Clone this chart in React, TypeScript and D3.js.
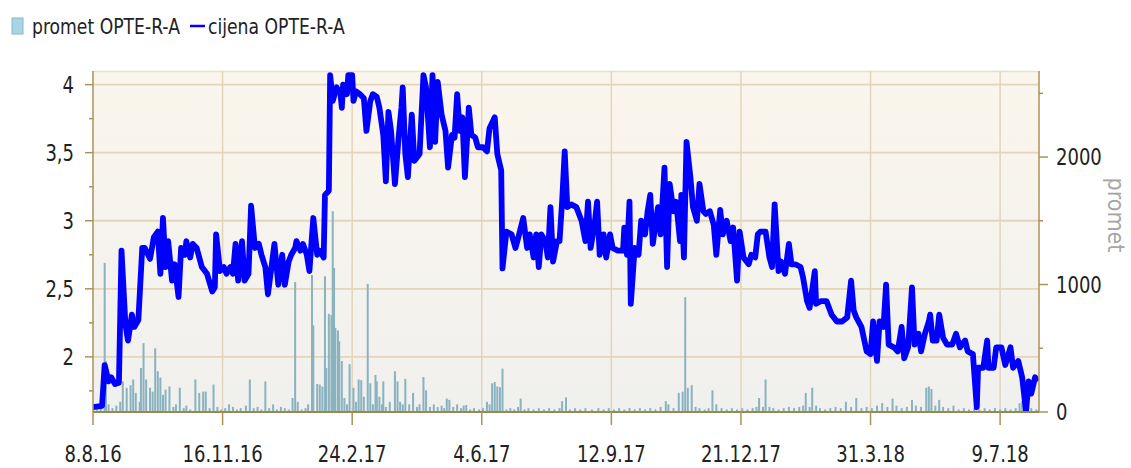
import React from 'react';
import * as d3 from 'd3';

// ---- data ----
const startDate = new Date(Date.UTC(2016, 7, 8)); // 8.8.16
const endDate = new Date(Date.UTC(2018, 7, 8));

// cijena OPTE-R-A : day offset from 8.8.16, price
const priceDays = [
  0, 7, 9, 12, 14, 17, 20, 22, 25, 27, 30, 32, 35, 38, 40, 44, 47, 50, 52, 54, 56, 58, 61, 63, 66, 68, 71, 72, 75, 77, 80, 84, 88, 92, 94, 95, 98,
  101, 103, 106, 108, 110, 112, 115, 117, 120, 122, 125, 128, 130, 133, 135, 138, 140, 143, 146, 148, 151, 153, 156, 157, 160, 162, 165, 167, 170, 173, 175, 178, 179,
  182, 183, 185, 188, 191, 192, 193, 196, 197, 200, 201, 203, 206, 209, 211, 214, 216, 219, 221, 224, 226, 228, 230, 233, 236, 238, 239, 241, 243,
  246, 248, 252, 255, 257, 260, 262, 264, 266, 269, 272, 274, 277, 279, 281, 283, 285, 287, 290, 292, 295, 297, 301, 304, 306, 310, 312, 315, 316,
  319, 323, 326, 328, 332, 335, 337, 340, 342, 344, 346, 349, 351, 353, 355, 358, 360, 362, 364, 366, 369, 373, 377, 380, 382, 384, 387, 389, 391, 394, 396, 399,
  401, 405, 409, 410, 412, 414, 415, 418, 421, 423, 426, 428, 430, 432, 434, 436, 438, 441, 443, 445, 448, 450, 453, 454, 456, 458, 461, 463, 466, 468, 471, 473, 476, 479,
  481, 484, 486, 489, 492, 494, 497, 499, 502, 506, 508, 511, 513, 515, 519, 522, 524, 526, 529, 531, 534, 537, 539, 542, 546, 548, 551, 553, 557, 558, 562, 566,
  570, 574, 578, 582, 585, 587, 589, 593, 597, 600, 602, 605, 607, 610, 612, 614, 618, 621, 624, 626, 629, 632, 634, 637, 639, 642, 645, 646, 648, 651, 653, 656, 659,
  663, 666, 669, 673, 675, 679, 682, 683, 687, 690, 691, 695, 697, 701, 704, 708, 710, 714, 717, 720, 722, 724, 727, 729,
];
const priceValues = [
  1.63, 1.64, 1.94, 1.82, 1.85, 1.8, 1.81, 2.78, 2.24, 2.12, 2.31, 2.22, 2.27, 2.8, 2.8, 2.72, 2.88, 2.92, 2.61, 3.02, 2.66, 2.85, 2.56, 2.68, 2.44, 2.8, 2.75, 2.85, 2.73, 2.83, 2.8, 2.66, 2.61, 2.48, 2.51, 2.9, 2.63,
  2.66, 2.61, 2.66, 2.61, 2.83, 2.56, 2.85, 2.56, 2.61, 3.11, 2.8, 2.83, 2.75, 2.66, 2.46, 2.68, 2.83, 2.53, 2.75, 2.53, 2.7, 2.75, 2.8, 2.85, 2.78, 2.83, 2.75, 2.63, 3.02, 2.75, 2.78, 2.73, 3.19,
  3.22, 4.07, 3.88, 3.98, 3.93, 3.83, 4.0, 3.93, 4.07, 4.07, 3.88, 3.95, 3.93, 3.9, 3.66, 3.88, 3.93, 3.91, 3.83, 3.63, 3.29, 3.8, 3.66, 3.27, 3.63, 3.83, 3.98, 3.49, 3.32,
  3.78, 3.44, 3.49, 4.07, 3.98, 3.54, 4.07, 3.58, 4.02, 3.78, 3.66, 3.39, 3.63, 3.61, 3.93, 3.66, 3.76, 3.32, 3.83, 3.63, 3.61, 3.54, 3.54, 3.51, 3.68, 3.76, 3.49, 3.37, 2.65,
  2.92, 2.9, 2.8, 2.87, 3.02, 2.8, 2.9, 2.73, 2.9, 2.66, 2.9, 2.85, 2.73, 3.1, 2.7, 2.85, 2.85, 3.14, 3.51, 3.1, 3.12, 3.1, 3.0, 2.85, 3.14, 2.8, 2.97, 3.14, 2.75, 2.9, 2.73, 2.9,
  2.8, 2.78, 2.78, 2.95, 2.75, 3.14, 2.39, 2.8, 2.75, 3.0, 2.9, 3.07, 3.19, 2.83, 2.97, 3.1, 2.9, 3.39, 2.66, 3.27, 3.07, 3.14, 2.85, 3.19, 2.73, 3.58, 3.32, 3.1, 3.0, 3.27, 3.07, 3.05, 3.07, 2.97,
  2.75, 3.08, 2.9, 3.0, 2.85, 2.95, 2.56, 2.92, 2.73, 2.68, 2.75, 2.73, 2.9, 2.92, 2.92, 2.73, 2.66, 3.12, 2.63, 2.7, 2.61, 2.83, 2.68, 2.68, 2.66, 2.58, 2.41, 2.36, 2.63, 2.39, 2.41, 2.41,
  2.31, 2.26, 2.26, 2.29, 2.56, 2.34, 2.29, 2.22, 2.04, 2.02, 2.26, 1.97, 2.26, 2.22, 2.53, 2.09, 2.07, 2.04, 2.22, 1.99, 2.07, 2.51, 2.09, 2.17, 2.04, 2.17, 2.26, 2.31, 2.12, 2.12, 2.31, 2.14, 2.09,
  2.09, 2.17, 2.07, 2.12, 2.04, 2.02, 1.63, 1.92, 1.92, 2.12, 1.92, 1.92, 2.07, 2.07, 1.94, 2.07, 1.92, 1.97, 1.85, 1.6, 1.82, 1.73, 1.85, 1.82,
];

// promet OPTE-R-A : day offset from 8.8.16, volume
const volumeDays = [
  0, 3, 6, 9, 10, 12, 15, 18, 21, 23, 26, 29, 31, 33, 36, 37, 39, 41, 44, 46, 48, 50, 52, 54, 56, 59, 62, 64, 67, 70, 72, 75, 79, 82, 85, 87, 90, 93, 96, 99,
  102, 105, 108, 111, 114, 118, 121, 124, 127, 130, 133, 136, 139, 142, 145, 148, 151, 154, 156, 158, 161, 164, 166, 169, 170, 173, 175, 177, 179, 180,
  182, 184, 185, 186, 187, 189, 190, 192, 194, 196, 198, 201, 203, 205, 207, 209, 212, 214, 216, 218, 219, 221, 223, 224, 226, 229, 233, 235, 237, 239,
  241, 244, 247, 250, 252, 255, 257, 260, 263, 266, 269, 271, 273, 275, 278, 281, 284, 286, 288, 291, 294, 298, 301, 304, 306, 308, 310, 312, 314, 316,
  319, 322, 325, 328, 330, 333, 336, 340, 344, 348, 352, 356, 360, 362, 365, 368, 372, 376, 380, 385, 390, 394, 398, 402, 406, 410, 414, 418, 422, 426,
  430, 434, 438, 442, 444, 448, 452, 455, 457, 459, 462, 465, 468, 472, 475, 478, 481, 485, 489, 493, 497, 501, 505, 509, 512, 514, 517, 519, 522, 525,
  529, 533, 537, 541, 545, 548, 550, 553, 555, 558, 561, 565, 569, 573, 577, 581, 585, 589, 593, 597, 601, 605, 609, 613, 617, 620, 624, 628, 632, 635,
  639, 643, 645, 647, 650, 653, 656, 660, 664, 668, 672, 676, 680, 684, 688, 692, 696, 700, 704, 708, 712, 715, 717, 720, 724, 728,
];
const volumeValues = [
  30, 20, 40, 1170, 400, 60, 30, 50, 80, 240, 190, 210, 255, 150, 80, 345, 540, 255, 190, 160, 500, 320, 270, 135, 175, 200, 40, 60, 190, 30, 50, 20, 255, 150, 160, 160, 30, 215, 40, 20,
  30, 60, 40, 20, 30, 50, 255, 30, 40, 20, 240, 30, 60, 20, 40, 30, 20, 110, 1020, 80, 20, 30, 60, 1075, 680, 220, 215, 200, 1065, 345,
  770, 760, 1575, 1130, 660, 640, 555, 400, 110, 60, 375, 190, 80, 255, 250, 120, 1005, 225, 60, 290, 240, 120, 60, 240, 40, 80, 320, 240, 80, 60,
  260, 60, 150, 40, 60, 275, 170, 40, 60, 40, 50, 30, 105, 95, 40, 60, 30, 50, 55, 20, 30, 20, 30, 80, 60, 225, 235, 200, 195, 340,
  20, 30, 20, 40, 105, 20, 30, 20, 30, 20, 30, 20, 30, 85, 115, 20, 30, 20, 30, 20, 30, 20, 30, 20, 30, 20, 30, 20, 30, 20,
  30, 20, 40, 85, 60, 30, 150, 160, 900, 190, 210, 40, 30, 20, 30, 170, 60, 30, 20, 30, 20, 30, 20, 30, 40, 110, 40, 255, 40, 30,
  20, 30, 40, 30, 40, 50, 150, 40, 190, 50, 30, 20, 30, 40, 30, 80, 40, 110, 30, 40, 30, 50, 70, 40, 105, 50, 30, 40, 95, 50,
  40, 190, 200, 180, 50, 95, 40, 30, 50, 20, 30, 20, 30, 20, 30, 20, 30, 20, 30, 20, 30, 70, 85, 40, 30, 20,
];

const leftTicks = [2, 2.5, 3, 3.5, 4];
const leftMinorTicks = [1.75, 2.25, 2.75, 3.25, 3.75];
const rightTicks = [0, 1000, 2000];
const rightMinorTicks = [500, 1500, 2500];
const xTickDays = [0, 100, 200, 300, 400, 500, 600, 700];
const legendLabels = ['promet OPTE-R-A', 'cijena OPTE-R-A'];
const rightAxisTitle = 'promet';

// ---- layout ----
const W = 1131;
const H = 468;
const L = 93;
const R = 1039;
const T = 71;
const B = 412;
const FONT = "'DejaVu Sans Condensed', 'DejaVu Sans', sans-serif";
const SX = 0.87;

function SText(props: {
  x: number;
  y: number;
  anchor?: string;
  size: number;
  fill?: string;
  dy?: string;
  children: React.ReactNode;
}) {
  const { x, y, anchor = 'start', size, fill = '#222', dy, children } = props;
  return (
    <text
      transform={`translate(${x},${y}) scale(${SX},1)`}
      textAnchor={anchor}
      fontSize={size}
      fill={fill}
      dy={dy}
    >
      {children}
    </text>
  );
}

export default function App() {
  const x = d3.scaleUtc().domain([startDate, endDate]).range([L, R]);
  const yL = d3.scaleLinear().domain([1.595, 4.1]).range([B, T]);
  const yR = d3.scaleLinear().domain([0, 2675]).range([B, T]);
  const dayToDate = (d: number) => d3.utcDay.offset(startDate, d);
  const fmtDate = d3.utcFormat('%-d.%-m.%y');
  const fmtNum = (v: number) => String(v).replace('.', ',');

  const priceData = priceDays.map((d, i) => ({ date: dayToDate(d), v: priceValues[i] }));
  const volumeData = volumeDays.map((d, i) => ({ date: dayToDate(d), v: volumeValues[i] }));

  const line = d3
    .line<{ date: Date; v: number }>()
    .x((p) => x(p.date))
    .y((p) => yL(p.v));

  const gridColor = '#e2d5bb';
  const axisColor = '#ad9258';

  return (
    <svg
      width={W}
      height={H}
      style={{ position: 'absolute', left: 0, top: 0, background: '#ffffff' }}
      fontFamily={FONT}
    >
      <defs>
        <linearGradient id="bg" x1="0" y1="0" x2="0" y2="1">
          <stop offset="0%" stopColor="#fbf6ec" />
          <stop offset="100%" stopColor="#f0f0ee" />
        </linearGradient>
        <clipPath id="plot">
          <rect x={L} y={T} width={R - L} height={B - T} />
        </clipPath>
      </defs>

      {/* plot background */}
      <rect x={L} y={T} width={R - L} height={B - T} fill="url(#bg)" />
      <line x1={L} x2={R} y1={T + 0.5} y2={T + 0.5} stroke="#eadfca" strokeWidth={1.5} />

      {/* grid */}
      {leftTicks.map((t) => (
        <line key={'gh' + t} x1={L} x2={R} y1={yL(t)} y2={yL(t)} stroke={gridColor} strokeWidth={1.8} />
      ))}
      {xTickDays.slice(1).map((d) => (
        <line key={'gv' + d} x1={x(dayToDate(d))} x2={x(dayToDate(d))} y1={T} y2={B} stroke={gridColor} strokeWidth={1.5} />
      ))}

      {/* volume bars */}
      <g clipPath="url(#plot)">
        {volumeData.map((p, i) => (
          <rect
            key={'b' + i}
            x={x(p.date) - 1}
            y={yR(p.v)}
            width={2}
            height={B - yR(p.v)}
            fill="#8ab2bf"
          />
        ))}
      </g>

      {/* price line */}
      <g clipPath="url(#plot)">
        <path d={line(priceData) || ''} fill="none" stroke="#0000ff" strokeWidth={5.8} strokeLinejoin="round" />
      </g>

      {/* left axis */}
      <line x1={L} x2={L} y1={T} y2={B} stroke={axisColor} strokeWidth={1.5} />
      {leftTicks.map((t) => (
        <g key={'lt' + t}>
          <line x1={L - 8} x2={L} y1={yL(t)} y2={yL(t)} stroke={axisColor} strokeWidth={1.5} />
          <SText x={L - 19} y={yL(t)} dy="0.36em" anchor="end" size={23}>
            {fmtNum(t)}
          </SText>
        </g>
      ))}
      {leftMinorTicks.map((t) => (
        <line key={'lm' + t} x1={L - 4} x2={L} y1={yL(t)} y2={yL(t)} stroke={axisColor} strokeWidth={1.5} />
      ))}

      {/* right axis */}
      <line x1={R} x2={R} y1={T} y2={B} stroke={axisColor} strokeWidth={1.5} />
      {rightTicks.map((t) => (
        <g key={'rt' + t}>
          <line x1={R} x2={R + 9} y1={yR(t)} y2={yR(t)} stroke={axisColor} strokeWidth={1.5} />
          <SText x={R + 17} y={yR(t)} dy="0.36em" anchor="start" size={23}>
            {t}
          </SText>
        </g>
      ))}
      {rightMinorTicks.map((t) => (
        <line key={'rm' + t} x1={R} x2={R + 4} y1={yR(t)} y2={yR(t)} stroke={axisColor} strokeWidth={1.5} />
      ))}
      <text
        transform={`translate(${1108},${215}) rotate(90)`}
        textAnchor="middle"
        fontSize={23}
        fill="#a6a6a6"
      >
        {rightAxisTitle}
      </text>

      {/* bottom axis */}
      <line x1={L} x2={R} y1={B} y2={B} stroke="#9c884c" strokeWidth={2} />
      {xTickDays.map((d) => {
        const px = x(dayToDate(d));
        return (
          <g key={'xt' + d}>
            <line x1={px} x2={px} y1={B} y2={B + 13} stroke={axisColor} strokeWidth={1.5} />
            <SText x={px} y={462} anchor="middle" size={23}>
              {fmtDate(dayToDate(d))}
            </SText>
          </g>
        );
      })}

      {/* legend */}
      <rect x={12} y={18} width={11} height={16} fill="#a9d4e4" stroke="#86b8cb" strokeWidth={1} />
      <SText x={32} y={34} size={22}>
        {legendLabels[0]}
      </SText>
      <line x1={190} x2={205} y1={26} y2={26} stroke="#0000ff" strokeWidth={2.5} />
      <SText x={208} y={34} size={22}>
        {legendLabels[1]}
      </SText>
    </svg>
  );
}
